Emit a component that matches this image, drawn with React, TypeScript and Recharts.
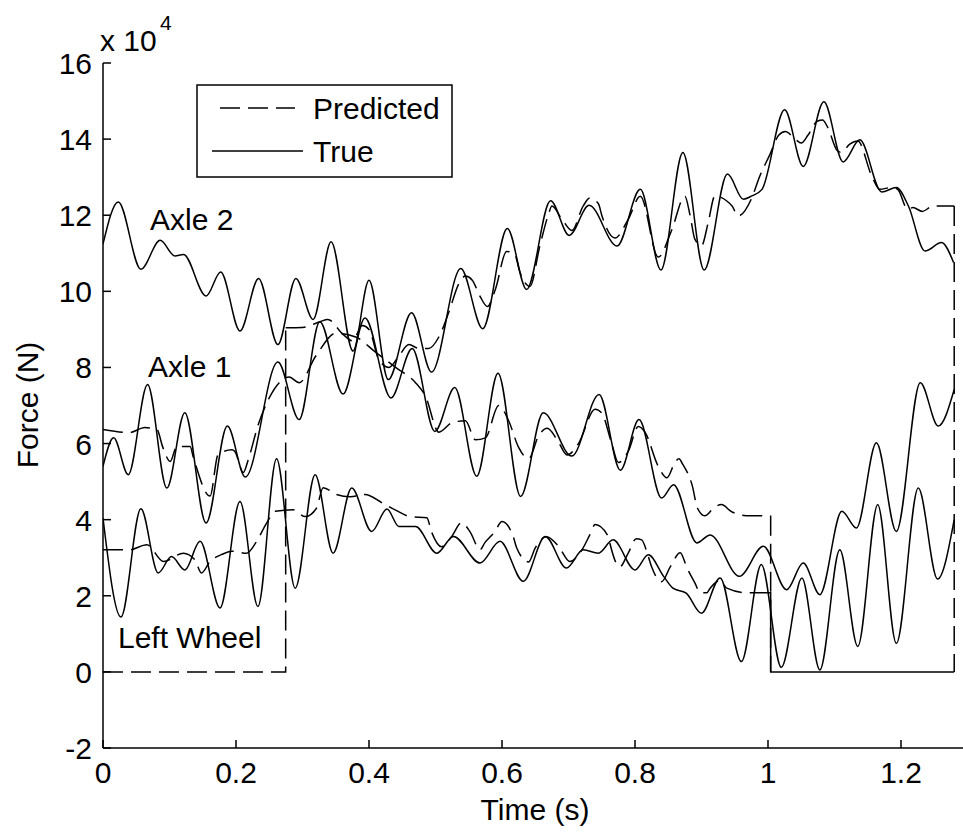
import { LineChart, Line, XAxis, YAxis } from 'recharts';

// time in s, force in 1e4 N
const axle2TrueT = [0, 0.023, 0.057, 0.086, 0.108, 0.121, 0.155, 0.177, 0.206, 0.234, 0.263, 0.29, 0.316, 0.343, 0.376, 0.4, 0.429, 0.464, 0.494, 0.538, 0.571, 0.608, 0.637, 0.673, 0.701, 0.731, 0.773, 0.808, 0.839, 0.872, 0.904, 0.939, 0.963, 0.975, 0.991, 1.025, 1.053, 1.084, 1.113, 1.138, 1.171, 1.193, 1.211, 1.236, 1.261, 1.279];
const axle2TrueF = [11.24, 12.35, 10.58, 11.34, 10.93, 10.97, 9.88, 10.51, 8.96, 10.34, 8.6, 10.34, 9.26, 11.3, 8.43, 10.29, 7.68, 9.44, 7.88, 10.6, 9.02, 11.65, 10.05, 12.38, 11.47, 12.26, 11.19, 12.68, 10.56, 13.65, 10.56, 13.08, 12.42, 12.5, 12.68, 14.77, 13.28, 14.98, 13.4, 13.98, 12.61, 12.73, 12.25, 11.06, 11.28, 10.76];

const axle2PredT = [0.2747, 0.3, 0.326, 0.338, 0.361, 0.375, 0.39, 0.4, 0.415, 0.43, 0.445, 0.46, 0.475, 0.49, 0.505, 0.52, 0.535, 0.545, 0.555, 0.567, 0.578, 0.59, 0.607, 0.619, 0.627, 0.642, 0.657, 0.67, 0.675, 0.69, 0.705, 0.722, 0.732, 0.745, 0.75, 0.77, 0.79, 0.808, 0.835, 0.855, 0.875, 0.883, 0.89, 0.9, 0.91, 0.92, 0.946, 0.955, 0.976, 0.987, 1.003, 1.016, 1.026, 1.041, 1.05, 1.06, 1.074, 1.082, 1.09, 1.104, 1.11, 1.123, 1.135, 1.156, 1.168, 1.186, 1.195, 1.21, 1.218, 1.232, 1.248, 1.28];
const axle2PredF = [9.04, 9.05, 9.2, 9.26, 8.87, 8.7, 9.1, 9.0, 8.2, 8.0, 8.3, 8.6, 8.5, 8.5, 8.8, 9.45, 10.2, 10.4, 10.3, 9.87, 9.6, 10.05, 11.05, 10.97, 10.5, 10.13, 11.2, 12.03, 12.24, 11.9, 11.6, 12.24, 12.45, 12.3, 12.0, 11.4, 11.9, 12.5, 10.9, 11.6, 12.5, 11.98, 11.37, 11.2, 11.8, 12.5, 12.24, 11.98, 12.47, 13.0, 13.6, 14.1, 14.2, 14.0, 13.9, 14.1, 14.47, 14.5, 14.3, 13.7, 13.65, 13.87, 13.95, 13.03, 12.68, 12.73, 12.68, 12.16, 12.2, 12.1, 12.24, 12.24];
// axle 2 is off the bridge before 0.2747 s and after 1.28 s
const axle2PredStartT = [0, 0.2747, 0.2747];
const axle2PredStartF = [0, 0, 9.04];
const axle2PredEndT = [1.28, 1.28];
const axle2PredEndF = [12.24, 0];

const axle1TrueT = [0, 0.016, 0.038, 0.067, 0.096, 0.123, 0.155, 0.187, 0.214, 0.263, 0.295, 0.326, 0.361, 0.394, 0.433, 0.465, 0.499, 0.529, 0.562, 0.594, 0.628, 0.662, 0.705, 0.746, 0.778, 0.806, 0.84, 0.858, 0.893, 0.913, 0.957, 0.993, 1.028, 1.053, 1.078, 1.111, 1.133, 1.163, 1.193, 1.229, 1.256, 1.28];
const axle1TrueF = [5.4, 6.15, 5.18, 7.55, 4.83, 6.81, 3.91, 6.46, 5.12, 8.14, 6.63, 9.2, 7.3, 9.3, 7.2, 8.5, 6.32, 7.47, 5.14, 7.85, 4.61, 6.81, 5.67, 7.29, 5.3, 6.63, 4.57, 4.92, 3.39, 3.6, 2.51, 3.3, 2.16, 2.86, 2.03, 4.22, 3.78, 6.02, 3.69, 7.6, 6.46, 7.42];

const axle1PredT = [0, 0.04, 0.063, 0.081, 0.09, 0.101, 0.111, 0.131, 0.136, 0.161, 0.173, 0.194, 0.198, 0.211, 0.2185, 0.2335, 0.25, 0.265, 0.28, 0.295, 0.32, 0.35, 0.38, 0.41, 0.44, 0.47, 0.485, 0.505, 0.525, 0.545, 0.56, 0.575, 0.595, 0.61, 0.625, 0.64, 0.655, 0.668, 0.683, 0.698, 0.715, 0.74, 0.75, 0.765, 0.775, 0.79, 0.805, 0.815, 0.835, 0.848, 0.86, 0.866, 0.872, 0.886, 0.894, 0.905, 0.918, 0.93, 0.946, 0.973, 1.004];
const axle1PredF = [6.37, 6.29, 6.42, 6.37, 5.9, 5.53, 5.92, 5.92, 5.63, 4.62, 5.71, 5.84, 5.8, 5.24, 5.58, 6.5, 7.2, 7.6, 7.75, 7.6, 8.3, 8.9, 8.8, 8.4, 8.0, 7.6, 7.24, 6.3, 6.55, 6.6, 6.1, 6.15, 7.0, 6.6, 5.9, 5.6, 6.2, 6.4, 6.1, 5.7, 6.0, 6.9, 6.8, 6.0, 5.5, 5.8, 6.45, 6.3, 5.4, 5.1, 5.5, 5.6, 5.45, 4.9, 4.3, 4.1, 4.3, 4.4, 4.2, 4.1, 4.1];
const axle1PredEndT = [1.004, 1.004];
const axle1PredEndF = [4.1, 0];

const wheelTrueT = [0, 0.027, 0.057, 0.083, 0.103, 0.123, 0.146, 0.176, 0.206, 0.233, 0.261, 0.289, 0.319, 0.346, 0.374, 0.404, 0.427, 0.445, 0.47, 0.502, 0.527, 0.567, 0.597, 0.632, 0.665, 0.697, 0.722, 0.745, 0.767, 0.8, 0.82, 0.843, 0.857, 0.877, 0.9, 0.928, 0.96, 0.99, 1.02, 1.051, 1.078, 1.108, 1.135, 1.165, 1.193, 1.226, 1.255, 1.28];
const wheelTrueF = [4.04, 1.44, 4.29, 2.6, 3.03, 2.68, 3.43, 1.68, 4.48, 1.72, 5.6, 2.2, 5.18, 3.12, 4.83, 3.69, 4.28, 3.82, 3.82, 3.12, 3.56, 2.86, 3.43, 2.38, 3.56, 2.73, 3.21, 3.12, 3.47, 2.68, 3.08, 2.51, 2.2, 2.07, 1.54, 2.47, 0.27, 2.82, 0.12, 2.47, 0.05, 3.21, 0.67, 4.39, 0.75, 4.83, 2.44, 4.0];

const wheelPredT = [0, 0.04, 0.066, 0.091, 0.121, 0.138, 0.148, 0.161, 0.178, 0.194, 0.216, 0.231, 0.246, 0.259, 0.286, 0.304, 0.321, 0.331, 0.351, 0.372, 0.394, 0.419, 0.44, 0.462, 0.487, 0.494, 0.509, 0.524, 0.539, 0.552, 0.567, 0.574, 0.589, 0.6, 0.617, 0.622, 0.64, 0.65, 0.667, 0.685, 0.702, 0.72, 0.732, 0.74, 0.76, 0.762, 0.777, 0.79, 0.802, 0.81, 0.82, 0.825, 0.84, 0.853, 0.868, 0.878, 0.89, 0.898, 0.908, 0.913, 0.928, 0.938, 0.968, 0.985];
const wheelPredF = [3.21, 3.21, 3.34, 2.9, 3.12, 2.95, 2.6, 2.9, 3.08, 3.17, 3.12, 3.43, 3.91, 4.22, 4.26, 4.08, 4.3, 4.84, 4.66, 4.6, 4.66, 4.45, 4.25, 4.08, 4.05, 3.68, 3.29, 3.55, 3.92, 3.68, 3.21, 3.39, 3.68, 3.95, 3.55, 3.26, 2.89, 3.26, 3.55, 3.3, 2.9, 3.2, 3.6, 3.87, 3.55, 3.4, 2.76, 3.13, 3.5, 3.47, 3.03, 2.76, 2.37, 2.76, 3.13, 2.74, 2.34, 2.08, 2.08, 2.2, 2.4, 2.2, 2.08, 2.08];
const wheelPredEndT = [0.985, 1.004, 1.004, 1.28];
const wheelPredEndF = [2.08, 2.08, 0, 0];

const xTicks = [0, 0.2, 0.4, 0.6, 0.8, 1, 1.2];
const yTicks = [-2, 0, 2, 4, 6, 8, 10, 12, 14, 16];

const FONT = '"Liberation Sans", Arial, Helvetica, sans-serif';
const DASH = '20 8';

const pts = (ts: number[], fs: number[]) => ts.map((t, i) => ({ t, f: fs[i] }));

function BottomTick({ x, y, payload }: any) {
    return (
        <g>
            <line x1={x} x2={x} y1={y} y2={y - 8} stroke="#000" strokeWidth={1.5} />
            <text x={x} y={y + 35} textAnchor="middle" fontSize={30} fontFamily={FONT} fill="#000">
                {String(payload.value)}
            </text>
        </g>
    );
}

function TopTick({ x, y }: any) {
    return <line x1={x} x2={x} y1={y} y2={y + 8} stroke="#000" strokeWidth={1.5} />;
}

function LeftTick({ x, y, payload }: any) {
    return (
        <g>
            <line x1={x} x2={x + 8} y1={y} y2={y} stroke="#000" strokeWidth={1.5} />
            <text x={x - 11} y={y + 11} textAnchor="end" fontSize={30} fontFamily={FONT} fill="#000">
                {String(payload.value)}
            </text>
        </g>
    );
}

export default function App() {
    const trueProps = { type: 'monotone' as const, dataKey: 'f', stroke: '#000', strokeWidth: 1.5, dot: false, isAnimationActive: false };
    const predProps = { ...trueProps, strokeDasharray: DASH };
    const stepProps = { ...trueProps, type: 'linear' as const };

    return (
        <div style={{ position: 'fixed', left: 0, top: 0, width: 963, height: 835, overflow: 'hidden', background: '#fff' }}>
            <div style={{ position: 'relative', width: 1000, height: 835 }}>
                <LineChart width={1000} height={835} margin={{ top: 63, right: 32.5, bottom: 0, left: 0 }}>
                    <XAxis
                        dataKey="t"
                        type="number"
                        domain={[0, 1.3]}
                        ticks={xTicks}
                        allowDataOverflow
                        height={87}
                        tickSize={0}
                        tickMargin={0}
                        tickLine={false}
                        tick={<BottomTick />}
                        axisLine={{ stroke: '#000', strokeWidth: 1.5 }}
                        interval={0}
                    />
                    <XAxis
                        xAxisId="top"
                        orientation="top"
                        dataKey="t"
                        type="number"
                        domain={[0, 1.3]}
                        ticks={xTicks}
                        allowDataOverflow
                        height={0}
                        tickSize={0}
                        tickMargin={0}
                        tickLine={false}
                        tick={<TopTick />}
                        axisLine={{ stroke: '#000', strokeWidth: 1.5 }}
                        interval={0}
                    />
                    <YAxis
                        type="number"
                        domain={[-2, 16]}
                        ticks={yTicks}
                        allowDataOverflow
                        width={103}
                        tickSize={0}
                        tickMargin={0}
                        tickLine={false}
                        tick={<LeftTick />}
                        axisLine={{ stroke: '#000', strokeWidth: 1.5 }}
                        interval={0}
                    />

                    <Line {...trueProps} data={pts(axle2TrueT, axle2TrueF)} />
                    <Line {...predProps} data={pts(axle2PredT, axle2PredF)} />
                    <Line {...stepProps} strokeDasharray={DASH} data={pts(axle2PredStartT, axle2PredStartF)} />
                    <Line {...stepProps} strokeDasharray={DASH} data={pts(axle2PredEndT, axle2PredEndF)} />

                    <Line {...trueProps} data={pts(axle1TrueT, axle1TrueF)} />
                    <Line {...predProps} data={pts(axle1PredT, axle1PredF)} />
                    <Line {...stepProps} strokeDasharray={DASH} data={pts(axle1PredEndT, axle1PredEndF)} />

                    <Line {...trueProps} data={pts(wheelTrueT, wheelTrueF)} />
                    <Line {...predProps} data={pts(wheelPredT, wheelPredF)} />
                    <Line {...stepProps} data={pts(wheelPredEndT, wheelPredEndF)} />
                </LineChart>

                <svg width={1000} height={835} style={{ position: 'absolute', left: 0, top: 0, pointerEvents: 'none' }} fontFamily={FONT}>
                    <text x={100} y={51} fontSize={30}>x 10</text>
                    <text x={160} y={30} fontSize={21}>4</text>

                    <text x={150} y={230} fontSize={30}>Axle 2</text>
                    <text x={148} y={377} fontSize={30}>Axle 1</text>
                    <text x={118} y={648} fontSize={30}>Left Wheel</text>

                    <rect x={197} y={85} width={255} height={92} fill="#fff" stroke="#000" strokeWidth={1.5} />
                    <line x1={220} x2={295} y1={108} y2={108} stroke="#000" strokeWidth={1.5} strokeDasharray={DASH} />
                    <text x={313} y={119} fontSize={30}>Predicted</text>
                    <line x1={212} x2={303} y1={151} y2={151} stroke="#000" strokeWidth={1.5} />
                    <text x={313} y={162} fontSize={30}>True</text>

                    <text x={535} y={820} fontSize={30} textAnchor="middle">Time (s)</text>
                    <text x={38} y={405} fontSize={30} textAnchor="middle" transform="rotate(-90 38 405)">Force (N)</text>
                </svg>
            </div>
        </div>
    );
}
